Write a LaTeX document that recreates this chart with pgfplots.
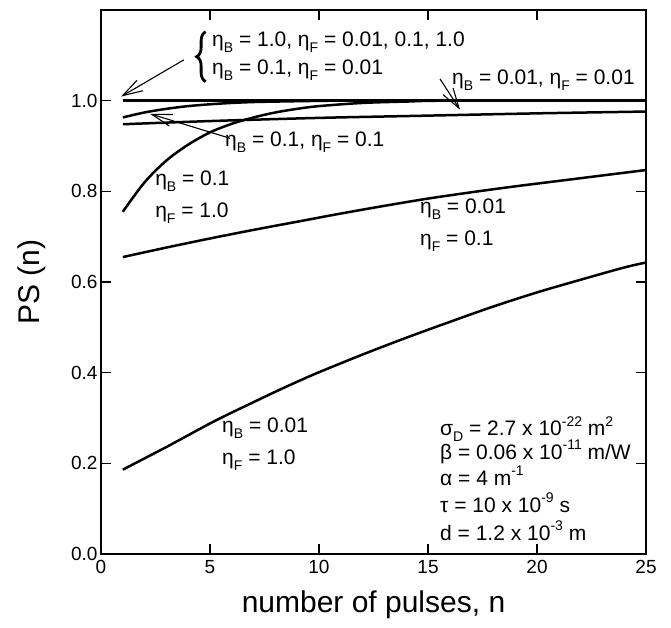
\documentclass[border=0pt]{standalone}
\usepackage{pgfplots}
\pgfplotsset{compat=1.18}
\usepackage{fontspec}
\setmainfont{Liberation Sans}
\usetikzlibrary{arrows.meta,decorations.pathreplacing}
\newcommand{\sub}[1]{\raisebox{-0.28em}{\fontsize{14}{14}\selectfont #1}}
\newcommand{\sups}[1]{\raisebox{0.45em}{\fontsize{14}{14}\selectfont #1}}
\newcommand{\eb}[1]{η\sub{B} = #1}
\newcommand{\ef}[1]{η\sub{F} = #1}
\tikzset{curve/.style={black, line width=2.5pt, smooth, no marks, line join=round}}
\begin{document}
\begin{tikzpicture}
\begin{axis}[
  scale only axis, width=545pt, height=544pt,
  xmin=0, xmax=25, ymin=0, ymax=1.2,
  xtick={0,5,...,25}, ytick={0,0.2,...,1.0},
  yticklabel style={/pgf/number format/fixed,/pgf/number format/fixed zerofill,/pgf/number format/precision=1},
  /pgf/number format/assume math mode=true,
  tick align=inside, major tick length=10pt,
  axis line style={line width=1.6pt}, tick style={line width=1.3pt, black},
  ticklabel style={font=\fontsize{19}{21}\selectfont},
  xticklabel style={yshift=-3pt},
  xlabel={number of pulses, n}, ylabel={PS (n)},
  label style={font=\fontsize{30}{32}\selectfont},
  xlabel style={at={(axis description cs:0.5,-0.093)},anchor=center},
  ylabel style={at={(axis description cs:-0.127,0.5)},anchor=center},
  clip=false,
]
\coordinate (O) at (axis cs:0,0);
% eta_B=1.0 (all eta_F) and eta_B=0.1, eta_F=0.01
\addplot[curve, line width=3.4pt] coordinates {(1,1.0) (25,1.0)};
% eta_B=0.1, eta_F=0.1
\addplot[curve] coordinates {(1,0.963)(2,0.974)(3,0.982)(4,0.988)(5,0.992)(6,0.995)(7,0.997)(8,0.998)(10,0.9995)(12,1.0)(25,1.0)};
% eta_B=0.01, eta_F=0.01
\addplot[curve] coordinates {(1,0.948)(5,0.955)(10,0.962)(15,0.967)(20,0.972)(25,0.976)};
% eta_B=0.1, eta_F=1.0
\addplot[curve] coordinates {(1,0.755)(2,0.82)(3,0.868)(4,0.903)(5,0.93)(6,0.949)(7,0.963)(8,0.974)(9,0.982)(10,0.988)(12,0.995)(14,0.998)(16,1.0)(25,1.0)};
% eta_B=0.01, eta_F=0.1
\addplot[curve] coordinates {(1,0.655)(3,0.676)(5,0.696)(7,0.715)(9,0.733)(11,0.751)(13,0.768)(15,0.784)(17,0.798)(19,0.811)(21,0.823)(23,0.835)(25,0.847)};
% eta_B=0.01, eta_F=1.0
\addplot[curve] coordinates {(1,0.186)(2,0.211)(3,0.236)(4,0.262)(5,0.288)(6,0.312)(7,0.335)(8,0.358)(9,0.38)(10,0.401)(12,0.44)(14,0.477)(16,0.512)(18,0.546)(20,0.577)(22,0.605)(24,0.632)(25,0.643)};

\begin{scope}[every node/.style={font=\fontsize{21}{23}\selectfont, inner sep=0pt}]
\node[anchor=west] at (axis cs:5.09,1.1297) {\eb{1.0}, \ef{0.01}, 0.1, 1.0};
\node[anchor=west] at (axis cs:5.09,1.068) {\eb{0.1}, \ef{0.01}};
\draw[decorate,decoration={brace,amplitude=9pt},line width=2.8pt] (axis cs:4.80,1.042) -- (axis cs:4.80,1.152);
\draw[line width=1.1pt,-{Straight Barb[length=20pt,width=12pt,line width=1.1pt]}] (axis cs:3.8,1.090) -- (axis cs:0.92,1.009);

\node[anchor=west] at (axis cs:16.10,1.046) {\eb{0.01}, \ef{0.01}};
\draw[line width=1.1pt,-{Straight Barb[length=20pt,width=12pt,line width=1.1pt]}] (axis cs:15.55,1.048) -- (axis cs:16.47,0.980);

\node[anchor=west] at (axis cs:5.69,0.908) {\eb{0.1}, \ef{0.1}};
\draw[line width=1.1pt,-{Straight Barb[length=20pt,width=12pt,line width=1.1pt]}] (axis cs:5.92,0.917) -- (axis cs:2.25,0.971);

\node[anchor=west] at (axis cs:2.48,0.822) {\eb{0.1}};
\node[anchor=west] at (axis cs:2.48,0.752) {\ef{1.0}};
\node[anchor=west] at (axis cs:14.63,0.760) {\eb{0.01}};
\node[anchor=west] at (axis cs:14.63,0.690) {\ef{0.1}};
\node[anchor=west] at (axis cs:5.55,0.277) {\eb{0.01}};
\node[anchor=west] at (axis cs:5.55,0.207) {\ef{1.0}};

\node[anchor=base west] at (axis cs:15.55,0.2615) {σ\sub{D} = 2.7 x 10\sups{-22} m\sups{2}};
\node[anchor=base west] at (axis cs:15.55,0.2088) {β = 0.06 x 10\sups{-11} m/W};
\node[anchor=base west] at (axis cs:15.55,0.1516) {α = 4 m\sups{-1}};
\node[anchor=base west] at (axis cs:15.55,0.0923) {τ = 10 x 10\sups{-9} s};
\node[anchor=base west] at (axis cs:15.55,0.0308) {d = 1.2 x 10\sups{-3} m};
\end{scope}
\end{axis}
\pgfresetboundingbox
\path[use as bounding box] (O) ++(-101pt,-73pt) rectangle ++(671pt,627pt);
\end{tikzpicture}
\end{document}
